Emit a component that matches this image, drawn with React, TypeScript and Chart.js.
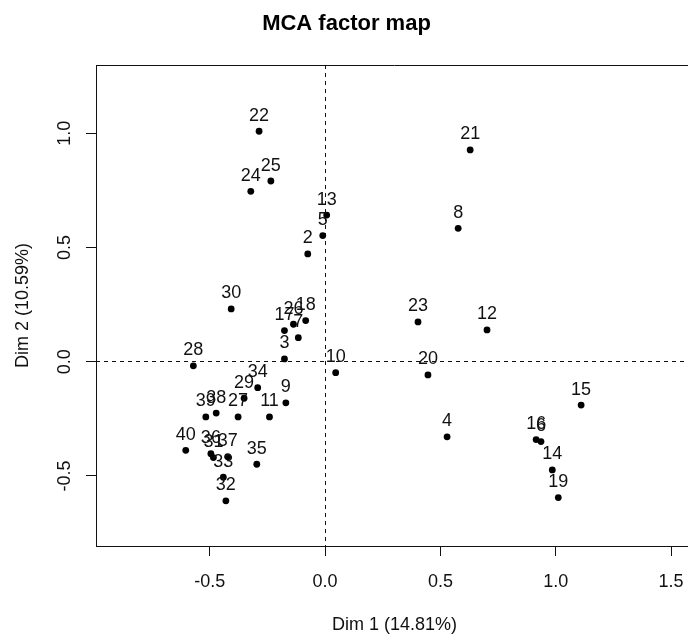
import React, { useEffect, useRef } from "react";
import { Chart, registerables } from "chart.js";

Chart.register(...registerables);

// Individuals (row ids) and their coordinates on the first two MCA dimensions
const ids = ["2", "3", "4", "5", "6", "7", "8", "9", "10", "11", "12", "13", "14", "15", "16", "17", "18", "19", "20", "21", "22", "23", "24", "25", "26", "27", "28", "29", "30", "31", "32", "33", "34", "35", "36", "37", "38", "39", "40"];
const dim1 = [-0.075, -0.176, 0.529, -0.010, 0.936, -0.116, 0.577, -0.170, 0.046, -0.241, 0.702, 0.007, 0.985, 1.110, 0.915, -0.176, -0.084, 1.011, 0.446, 0.629, -0.286, 0.403, -0.322, -0.235, -0.137, -0.377, -0.571, -0.351, -0.407, -0.484, -0.430, -0.441, -0.292, -0.296, -0.495, -0.422, -0.472, -0.517, -0.604];
const dim2 = [0.472, 0.012, -0.329, 0.552, -0.350, 0.105, 0.584, -0.180, -0.048, -0.242, 0.139, 0.642, -0.474, -0.190, -0.341, 0.136, 0.180, -0.595, -0.058, 0.927, 1.009, 0.174, 0.746, 0.791, 0.164, -0.242, -0.018, -0.160, 0.231, -0.420, -0.609, -0.506, -0.114, -0.449, -0.403, -0.416, -0.225, -0.242, -0.388];

const xTicks = [-0.5, 0, 0.5, 1, 1.5];
const yTicks = [-0.5, 0, 0.5, 1];
const xRange = [-0.993, 1.595];
const yRange = [-0.807, 1.299];

const chartTitle = "MCA factor map";
const xTitle = "Dim 1 (14.81%)";
const yTitle = "Dim 2 (10.59%)";

const FONT = "'Liberation Sans', Arial, Helvetica, sans-serif";
const INK = "#111111";

const overlay = {
  id: "overlay",
  beforeDatasetsDraw(chart: any) {
    const { ctx, chartArea: a, scales } = chart;
    const x = scales.x;
    const y = scales.y;
    ctx.save();
    ctx.strokeStyle = INK;
    ctx.lineWidth = 1;
    const ty = Math.floor(a.top) + 0.5;
    ctx.beginPath();
    ctx.moveTo(a.left, ty);
    ctx.lineTo(a.right, ty);
    ctx.stroke();
    ctx.setLineDash([4, 4]);
    const x0 = Math.floor(x.getPixelForValue(0)) + 0.5;
    const y0 = Math.floor(y.getPixelForValue(0)) + 0.5;
    ctx.beginPath();
    ctx.moveTo(x0, a.top);
    ctx.lineTo(x0, a.bottom);
    ctx.stroke();
    ctx.beginPath();
    ctx.moveTo(a.left, y0);
    ctx.lineTo(a.right, y0);
    ctx.stroke();
    ctx.restore();
  },
  afterDatasetsDraw(chart: any) {
    const { ctx, scales } = chart;
    const x = scales.x;
    const y = scales.y;
    ctx.save();
    ctx.fillStyle = INK;
    ctx.font = `18px ${FONT}`;
    ctx.textAlign = "center";
    ctx.textBaseline = "alphabetic";
    ids.forEach((id, i) => {
      const px = x.getPixelForValue(dim1[i]);
      const py = y.getPixelForValue(dim2[i]);
      ctx.fillText(id, px, py - 10.5);
    });
    // rotated y tick labels (R style, reading upwards)
    ctx.textBaseline = "middle";
    y.ticks.forEach((t: any) => {
      const py = y.getPixelForValue(t.value);
      ctx.save();
      ctx.translate(65, py);
      ctx.rotate(-Math.PI / 2);
      ctx.fillText(Number(t.value).toFixed(1), 0, 0);
      ctx.restore();
    });
    ctx.restore();
  },
};

export default function App() {
  const ref = useRef<HTMLCanvasElement | null>(null);

  useEffect(() => {
    if (!ref.current) return;
    const points = ids.map((_, i) => ({ x: dim1[i], y: dim2[i] }));
    const chart = new Chart(ref.current, {
      type: "scatter",
      data: {
        datasets: [
          {
            data: points,
            pointRadius: 3.4,
            pointHoverRadius: 3.4,
            pointBackgroundColor: "#000000",
            pointBorderWidth: 0,
            borderWidth: 0,
          },
        ],
      },
      options: {
        responsive: false,
        animation: false,
        events: [],
        layout: { padding: { left: 0, right: 7, top: 0, bottom: 0 } },
        plugins: {
          legend: { display: false },
          tooltip: { enabled: false },
          title: {
            display: true,
            text: chartTitle,
            color: "#000000",
            font: { family: FONT, size: 22, weight: "bold" },
            padding: { top: 11, bottom: 27.6 },
          },
        },
        scales: {
          x: {
            type: "linear",
            min: xRange[0],
            max: xRange[1],
            afterBuildTicks: (s: any) => {
              s.ticks = xTicks.map((v) => ({ value: v }));
            },
            afterFit: (s: any) => {
              s.height = 88;
            },
            grid: { drawOnChartArea: false, drawTicks: true, tickLength: 10, tickColor: INK, tickWidth: 1 },
            border: { display: true, color: INK, width: 1 },
            ticks: {
              color: INK,
              font: { family: FONT, size: 18 },
              padding: 15,
              maxRotation: 0,
              autoSkip: false,
              callback: (v: any) => Number(v).toFixed(1),
            },
            title: {
              display: true,
              text: xTitle,
              color: INK,
              font: { family: FONT, size: 18, lineHeight: 1 },
              padding: 0,
            },
          },
          y: {
            type: "linear",
            min: yRange[0],
            max: yRange[1],
            afterBuildTicks: (s: any) => {
              s.ticks = yTicks.map((v) => ({ value: v }));
            },
            afterFit: (s: any) => {
              s.width = 96;
            },
            grid: { drawOnChartArea: false, drawTicks: true, tickLength: 10, tickColor: INK, tickWidth: 1 },
            border: { display: true, color: INK, width: 1 },
            ticks: { display: false },
            title: {
              display: true,
              text: yTitle,
              color: INK,
              font: { family: FONT, size: 18 },
              padding: { top: 12, bottom: 0 },
            },
          },
        },
      },
      plugins: [overlay],
    });
    return () => chart.destroy();
  }, []);

  return (
    <div style={{ position: "absolute", left: 0, top: 0, width: 688, height: 634, overflow: "hidden", background: "#fff" }}>
      <canvas ref={ref} width={700} height={634} style={{ display: "block", width: 700, height: 634 }} />
    </div>
  );
}
